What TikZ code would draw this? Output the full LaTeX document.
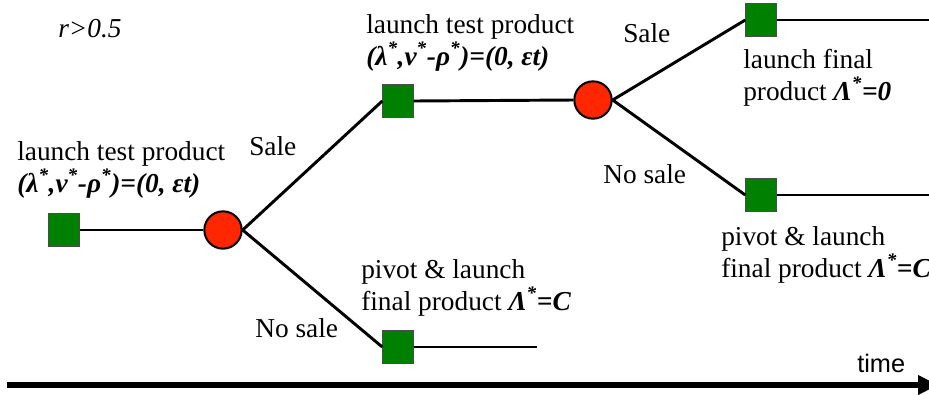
\documentclass[tikz,border=0pt]{standalone}
\usepackage{fontspec}
\setmainfont{Liberation Serif}
\newfontfamily\timefont{Liberation Sans}
\usetikzlibrary{arrows.meta}
\definecolor{decgreen}{RGB}{0,128,0}
\definecolor{chancered}{RGB}{255,38,0}
\begin{document}
\begin{tikzpicture}[x=0.75pt,y=-0.75pt,
    decision/.style={draw=black!70,line width=0.6pt,fill=decgreen,minimum width=23pt,minimum height=25pt,inner sep=0pt},
    chance/.style={circle,draw=black,line width=1.5pt,fill=chancered,minimum size=28pt,inner sep=0pt},
    branch/.style={line width=2.2pt},
    lbl/.style={font=\fontsize{20.5}{24}\selectfont,inner sep=0pt,anchor=base west,align=left}]
  \useasboundingbox (0,0) rectangle (929,394);
  % decision squares and chance circles
  \node[decision] (D0) at (64,230) {};
  \node[chance] (C0) at (223,230) {};
  \node[decision] (D1) at (398,101) {};
  \node[chance] (C1) at (593,100) {};
  \node[decision] (D2) at (761,20) {};
  \node[decision] (D3) at (761,195) {};
  \node[decision] (D4) at (398,347) {};
  \coordinate (E2) at (935,20);
  \coordinate (E3) at (935,195);
  \coordinate (E4) at (537,347);
  % branches
  \draw[branch] (D0.east) -- (C0.west);
  \draw[branch] (C0.east) -- (D1.west);
  \draw[branch] (C0.east) -- (D4.west);
  \draw[branch] (D1.east) -- (C1.west);
  \draw[branch] (C1.east) -- (D2.west);
  \draw[branch] (C1.east) -- (D3.west);
  \foreach \d/\e in {D2/E2,D3/E3,D4/E4}{
    \draw[branch] (\d.east) -- (\e);
  }
  % labels (base = last line)
  \node[lbl] (R) at (58,37) {\textit{r>0.5}};
  \node[lbl] (L0) at (17,192) {launch test product\\\textbf{\textit{(λ\textsuperscript{*},ν\textsuperscript{*}-ρ\textsuperscript{*})=(0, εt)}}};
  \node[lbl] (S0) at (249,155) {Sale};
  \node[lbl] (N0) at (255,337) {No sale};
  \node[lbl] (L1) at (366,65) {launch test product\\\textbf{\textit{(λ\textsuperscript{*},ν\textsuperscript{*}-ρ\textsuperscript{*})=(0, εt)}}};
  \node[lbl] (L4) at (361,310) {pivot \& launch\\final product \textbf{\textit{Λ\textsuperscript{*}=C}}};
  \node[lbl] (S1) at (623,42) {Sale};
  \node[lbl] (N1) at (603,183) {No sale};
  \node[lbl] (L2) at (743,100) {launch final\\product \textbf{\textit{Λ\textsuperscript{*}=0}}};
  \node[lbl] (L3) at (721,277) {pivot \& launch\\final product \textbf{\textit{Λ\textsuperscript{*}=C}}};
  % time axis
  \coordinate (T0) at (7,385);
  \coordinate (T1) at (938,385);
  \draw[line width=4.5pt,-{Triangle[length=15pt,width=14pt]}] (T0) -- (T1);
  \node[font=\timefont\fontsize{19}{22}\selectfont,inner sep=0pt,anchor=base west] (TM) at (857,372) {time};
\end{tikzpicture}
\end{document}
